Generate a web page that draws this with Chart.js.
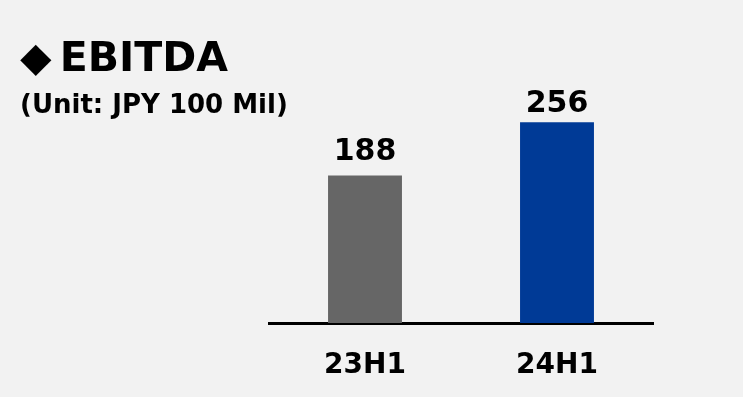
<!DOCTYPE html>
<html>
<head>
<meta charset="utf-8">
<script src="https://cdn.jsdelivr.net/npm/chart.js@4"></script>
<style>
    html, body { margin: 0; padding: 0; background: #f2f2f2; }
    #wrap { width: 743px; height: 397px; }
</style>
</head>
<body>
<div id="wrap"><canvas id="ebitdaChart" width="743" height="397"></canvas></div>
<script>
// Data
const periods = ['23H1', '24H1'];
const ebitda = [188, 256];
const barColors = ['#666666', '#003A96'];

// Value labels above each bar
const valueLabels = {
    id: 'valueLabels',
    afterDatasetsDraw(chart, args, opts) {
        const ctx = chart.ctx;
        const meta = chart.getDatasetMeta(0);
        ctx.save();
        ctx.font = 'bold 30px "DejaVu Sans"';
        ctx.fillStyle = '#000';
        ctx.textAlign = 'center';
        ctx.textBaseline = 'alphabetic';
        meta.data.forEach((bar, i) => {
            ctx.fillText(String(ebitda[i]), bar.x, bar.y - opts.gap[i]);
        });
        ctx.restore();
    }
};

const ebitdaChart = document.getElementById('ebitdaChart');
new Chart(ebitdaChart, {
    type: 'bar',
    data: {
        labels: periods,
        datasets: [{
            label: 'EBITDA',
            data: ebitda,
            backgroundColor: barColors,
            categoryPercentage: 1,
            barPercentage: 0.385
        }]
    },
    options: {
        responsive: false,
        animation: false,
        layout: { padding: { left: 20, right: 90, top: 0, bottom: 14 } },
        plugins: {
            legend: { display: false },
            tooltip: { enabled: false },
            title: {
                display: true,
                text: '◆\u2009EBITDA',
                align: 'start',
                color: '#000',
                font: { family: 'DejaVu Sans', size: 41, weight: 'bold' },
                padding: { top: 36, bottom: 0 }
            },
            subtitle: {
                display: true,
                text: '(Unit: JPY 100 Mil)',
                align: 'start',
                color: '#000',
                font: { family: 'DejaVu Sans', size: 26, weight: 'bold' },
                padding: { top: 5, bottom: 0 }
            },
            valueLabels: { gap: [16, 10] }
        },
        scales: {
            x: {
                grid: { display: false, drawTicks: false },
                border: { display: true, color: '#000', width: 3 },
                ticks: {
                    color: '#000',
                    padding: 26,
                    font: { family: 'DejaVu Sans', size: 28, weight: 'bold' }
                },
                afterFit: (scale) => { scale.height = 60; }
            },
            y: {
                min: 0,
                max: 257,
                grid: { display: false },
                border: { display: false },
                ticks: { display: false },
                afterFit: (scale) => { scale.width = 249; }
            }
        }
    },
    plugins: [valueLabels]
});
</script>
</body>
</html>
